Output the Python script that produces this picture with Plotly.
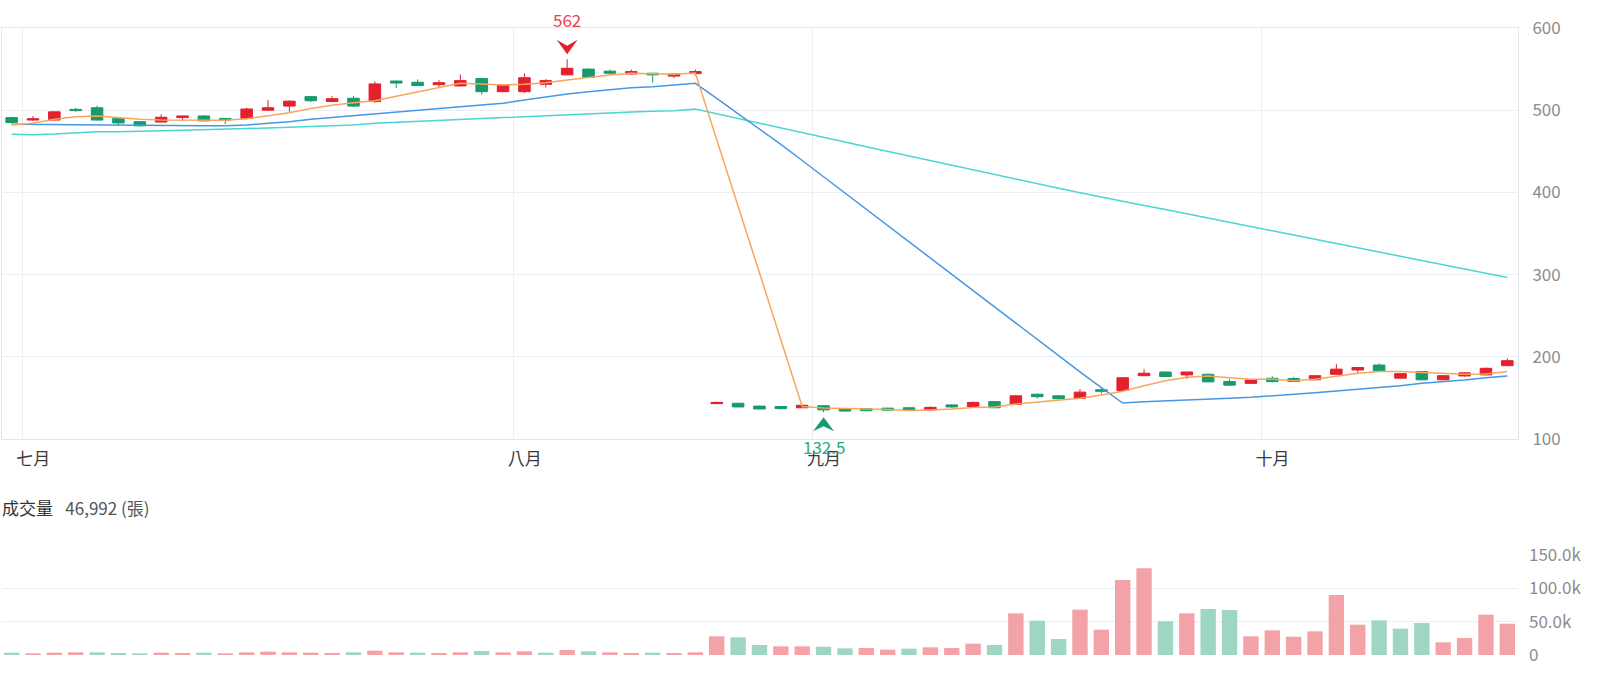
import plotly.graph_objects as go

# ---------------- data ----------------
dates = [
    "2025-06-30",
    "2025-07-01", "2025-07-02", "2025-07-03", "2025-07-04", "2025-07-07", "2025-07-08",
    "2025-07-09", "2025-07-10", "2025-07-11", "2025-07-14", "2025-07-15", "2025-07-16",
    "2025-07-17", "2025-07-18", "2025-07-21", "2025-07-22", "2025-07-23", "2025-07-24",
    "2025-07-25", "2025-07-28", "2025-07-29", "2025-07-30", "2025-07-31",
    "2025-08-01", "2025-08-04", "2025-08-05", "2025-08-06", "2025-08-07", "2025-08-08",
    "2025-08-11", "2025-08-12", "2025-08-13",
    "2025-08-25", "2025-08-26", "2025-08-27", "2025-08-28", "2025-08-29",
    "2025-09-01", "2025-09-02", "2025-09-03", "2025-09-04", "2025-09-05", "2025-09-08",
    "2025-09-09", "2025-09-10", "2025-09-11", "2025-09-12", "2025-09-15", "2025-09-16",
    "2025-09-17", "2025-09-18", "2025-09-19", "2025-09-22", "2025-09-23", "2025-09-24",
    "2025-09-25", "2025-09-26", "2025-09-30",
    "2025-10-01", "2025-10-02", "2025-10-03", "2025-10-07", "2025-10-08", "2025-10-09",
    "2025-10-13", "2025-10-14", "2025-10-15", "2025-10-16", "2025-10-17", "2025-10-20",
]

open_ = [
    491, 488, 488, 501, 503, 490, 486, 485.6, 491, 493, 490, 490, 500, 505, 516.5, 510.5,
    514.5, 510.5, 535.5, 534, 531, 529.5, 538.5, 522.5, 522.5, 531.5, 543, 550, 547.5, 544,
    545, 541.5, 544.5,
    143, 143.5, 140, 139.5, 138, 140.5, 137, 137, 137.5, 138, 135.5, 141.5, 139.5, 145.5,
    142, 154.5, 152.5, 149.5, 160, 159, 177, 181.5, 178, 178.7, 170, 167.7, 173.8, 173.5,
    172, 178.7, 184, 190, 174, 182, 172, 176.7, 178, 189.2,
]
high = [
    492, 493, 498.5, 503, 505.5, 490.5, 486.5, 495, 493.5, 494, 490.5, 503, 512.5, 512, 517.5, 517,
    517.5, 535, 536, 537.5, 536.5, 543.5, 539.5, 531, 545, 538, 562, 551, 549.5, 549.5,
    545.5, 545, 549.5,
    145.5, 144, 140.5, 140, 141.5, 141, 137.5, 137.5, 138, 138.5, 139.5, 142, 145.5, 146,
    153.5, 155, 153, 161, 162, 175, 185, 182, 182, 179.5, 173, 173, 176.5, 175.5,
    177.5, 191, 187.5, 192, 180, 182.5, 177.5, 181.5, 187, 198,
]
low = [
    484, 487, 487.5, 498, 487.5, 481, 480, 485, 487, 486.5, 483, 488.5, 500, 498, 510, 510,
    504, 509, 527, 529.5, 527, 529, 519, 522, 521, 527.5, 542.5, 539.5, 543, 543,
    533.5, 539, 542,
    142.5, 138.5, 136, 136, 137.5, 132.5, 133.5, 134, 134.5, 134.5, 135, 137.5, 139, 137.5,
    141.5, 149, 148, 149, 155, 158, 176.5, 175.5, 173, 169, 165, 167, 169, 169.5,
    171.5, 178, 180.5, 182.5, 173.5, 171.5, 171.5, 175.8, 177.5, 188.5,
]
close = [
    485, 489.5, 498, 499.5, 488, 484.5, 481, 491.4, 493, 487, 488, 501.5, 503, 511, 511.5, 514,
    505, 532, 533, 530, 533.5, 536, 522.5, 530.5, 539.5, 536, 551, 540, 545, 547,
    543, 544, 547,
    144.5, 139, 136.5, 137, 141, 135.5, 134, 134.5, 135, 135, 138.5, 139, 144.5, 138,
    152.5, 151.5, 149, 157, 158, 174.5, 180, 176, 181.5, 169.5, 165.5, 171.7, 169.8, 170,
    177, 185, 187, 183, 179.5, 172, 177, 180.5, 186, 195.3,
]
volume = [
    3500, 2500, 3500, 4000, 4000, 3000, 2500, 3500, 3000, 3500, 2500, 4000, 5000, 4000, 3500, 3000,
    4000, 6500, 4000, 3500, 3000, 4000, 6000, 4000, 5500, 3500, 7500, 5500, 4000, 3000,
    3500, 3000, 4000,
    28000, 26500, 15000, 13000, 13000, 12500, 10000, 10500, 8000, 9500, 11500, 10500, 17000, 15000,
    62500, 51500, 24000, 68000, 38000, 112500, 130000, 50500, 62500, 69000, 67500, 28000, 37000, 27500,
    35500, 90000, 45500, 52000, 39500, 48000, 19000, 25500, 60500, 46992,
]
# 1 = volume up day (red), 0 = down day (green)
vol_up = [
    0, 1, 1, 1, 0, 0, 0, 1, 1, 0, 1, 1, 1, 1, 1, 1, 0, 1, 1, 0, 1, 1, 0, 1, 1, 0, 1, 0, 1, 1, 0, 1, 1,
    1, 0, 0, 1, 1, 0, 0, 1, 1, 0, 1, 1, 1, 0, 1, 0, 0, 1, 1, 1, 1, 0, 1, 0, 0, 1, 1, 1, 1, 1, 1,
    0, 0, 0, 1, 1, 1, 1,
]
ma5 = [
    482, 484, 489, 492, 493, 491, 489, 488, 487.7, 487.7, 487.7, 489.7, 493, 497, 502, 506,
    509, 511.5, 517, 522.5, 527.5, 532.7, 532, 530.7, 531.5, 533.5, 536.7, 540, 542.8, 545,
    544, 543.7, 545.2,
    465.1, 383.5, 302.2, 220.8, 139.6, 137.8, 136.8, 136.4, 136.0, 134.8, 135.4, 136.4, 138.4,
    139.0, 142.5, 145.1, 147.1, 149.6, 153.6, 158.0, 164.8, 170.9, 175, 176.6, 174.6, 172.6,
    172.6, 171, 172.6, 176.6, 180, 182, 182, 181, 180, 178.7, 179, 182,
]
ma20 = [
    482.8, 482.5, 482.3, 482, 481.8, 481.5, 481.3, 481.2, 481, 481, 481, 482, 484, 486, 489, 491.3,
    493.5, 495.4, 497.8, 500.2, 502.3, 504.3, 506.3, 508.4, 512.4, 516.4, 519.7, 522.5, 525.4,
    527.4, 528.6, 530.7, 532.7,
    514.3, 495.7, 476.8, 458.4, 438.8, 419.0, 399.2, 379.2, 359.2, 339.8, 320.2, 300.1, 280.5,
    259.9, 240.5, 220.8, 200.9, 181.7, 162.4, 143.7, 145.4, 146.2, 147.4, 148.7, 149.5, 150.7,
    152.3, 154.4, 156.3, 158.4, 160.5, 162.4, 164.8, 167.8, 169.7, 171.8, 174.6, 176.6,
]
ma60 = [
    470.7, 470.2, 471, 472.6, 473.8, 473.8, 474.7, 475, 475.5, 476, 476.8, 477.5, 478.3, 479.2,
    480, 480.8, 482, 484, 485.2, 486.5, 487.7, 488.9, 490.1, 491.3, 492.1, 493.3, 494.5, 495.4,
    496.6, 497.8, 498.7, 499.4, 501.3,
    495.7, 490.0, 484.3, 478.6, 472.9, 467.2, 461.4, 455.6, 449.9, 444.1, 438.4, 432.7, 427.1,
    421.4, 416.0, 410.5, 405.0, 399.6, 394.2, 389.1, 384.1, 379.1, 374.1, 368.9, 363.7, 358.5,
    353.4, 348.1, 342.9, 337.7, 332.5, 327.4, 322.3, 317.2, 311.9, 306.7, 301.7, 296.5,
]

month_names = {7: "七月", 8: "八月", 9: "九月", 10: "十月"}
price_ticks = [100, 200, 300, 400, 500, 600]
vol_ticks = [0, 50000, 100000, 150000]
vol_tick_text = ["0", "50.0k", "100.0k", "150.0k"]
volume_title = "成交量"
volume_unit = "張"

# ---------------- styles ----------------
RED = "#e3202e"
GREEN = "#169b6b"
RED_VOL = "#f3a2a7"
GREEN_VOL = "#9fd6c2"
GRID = "#eceef5"
BORDER = "#e2e6ee"
FONT = "Noto Sans CJK TC"

idx = list(range(len(dates)))

# month boundaries (category boundary before first trading day of each month)
tick_pos, tick_txt = [], []
for i in range(1, len(dates)):
    m, pm = int(dates[i][5:7]), int(dates[i - 1][5:7])
    if m != pm and m in month_names:
        tick_pos.append(i - 0.5)
        tick_txt.append(month_names[m])

fig = go.Figure()

fig.add_trace(go.Candlestick(
    x=idx, open=open_, high=high, low=low, close=close,
    increasing=dict(line=dict(color=RED, width=1), fillcolor=RED),
    decreasing=dict(line=dict(color=GREEN, width=1), fillcolor=GREEN),
    whiskerwidth=0, hovertext=dates, xaxis="x", yaxis="y", showlegend=False,
))

for ma, col in ((ma60, "#4cd5d3"), (ma20, "#4697e4"), (ma5, "#f6a75c")):
    fig.add_trace(go.Scatter(
        x=idx, y=ma, mode="lines", line=dict(color=col, width=1.5),
        xaxis="x", yaxis="y", hoverinfo="skip", showlegend=False,
    ))

fig.add_trace(go.Bar(
    x=idx, y=volume, width=0.72,
    marker=dict(color=[RED_VOL if u else GREEN_VOL for u in vol_up], line=dict(width=0)),
    xaxis="x2", yaxis="y2", hovertext=dates, showlegend=False,
))

# extremes
hi = max(high)
i_hi = high.index(hi)
lo = min(low)
i_lo = low.index(lo)

fig.add_shape(type="path", xref="x", yref="y", xsizemode="pixel", ysizemode="pixel",
              xanchor=i_hi, yanchor=hi, path="M0,5 L-10.5,19.5 L0,13.5 L10.5,19.5 Z",
              fillcolor=RED, line=dict(width=0), layer="above")
fig.add_shape(type="path", xref="x", yref="y", xsizemode="pixel", ysizemode="pixel",
              xanchor=i_lo, yanchor=lo, path="M0,-5 L-10.5,-19 L0,-14 L10.5,-19 Z",
              fillcolor=GREEN, line=dict(width=0), layer="above")

fig.add_annotation(x=i_hi, y=hi, xref="x", yref="y", text=f"{hi:g}", showarrow=False,
                   yshift=40, yanchor="middle", font=dict(family=FONT, size=17, color="#e8444e"))
fig.add_annotation(x=i_lo, y=lo, xref="x", yref="y", text=f"{lo:g}", showarrow=False,
                   yshift=-34, yanchor="middle", font=dict(family=FONT, size=17, color="#2da87b"))

fig.add_annotation(
    xref="paper", yref="paper", x=0, y=0.2345, xshift=-2, xanchor="left", yanchor="middle",
    showarrow=False,
    text=(f'<span style="color:#333333">{volume_title}</span>\u2002 '
          f'<span style="color:#555555">{volume[-1]:,} ({volume_unit})</span>'),
    font=dict(family=FONT, size=17),
)

fig.update_layout(
    width=1600, height=677,
    margin=dict(l=2, r=82, t=28, b=22),
    paper_bgcolor="white", plot_bgcolor="white",
    showlegend=False, boxgap=0.46, boxgroupgap=0, hovermode="x",
    font=dict(family=FONT, size=17, color="#8c8c8c"),
    xaxis=dict(
        domain=[0, 1], anchor="y", type="linear", range=[-0.45, 70.5],
        tickmode="array", tickvals=tick_pos, ticktext=tick_txt,
        ticklabelshift=11, ticklabelstandoff=5,
        showgrid=True, gridcolor=GRID, gridwidth=1,
        showline=True, mirror=True, linecolor=BORDER, linewidth=1,
        zeroline=False, ticks="", rangeslider=dict(visible=False),
        tickfont=dict(family=FONT, size=17, color="#3a3a3a"),
    ),
    yaxis=dict(
        domain=[0.3445, 1], anchor="x", side="right", range=[100, 600],
        tickmode="array", tickvals=price_ticks,
        showgrid=True, gridcolor=GRID, gridwidth=1,
        showline=True, mirror=True, linecolor=BORDER, linewidth=1,
        zeroline=False, ticks="", ticklabelstandoff=10, automargin=False,
        tickfont=dict(family=FONT, size=17, color="#8c8c8c"),
    ),
    xaxis2=dict(
        domain=[0, 1], anchor="y2", matches="x", type="linear",
        showticklabels=False, showgrid=False, zeroline=False, showline=False, ticks="",
    ),
    yaxis2=dict(
        domain=[0, 0.1595], anchor="x2", side="right", range=[0, 150000],
        tickmode="array", tickvals=vol_ticks, ticktext=vol_tick_text,
        showgrid=True, gridcolor=GRID, gridwidth=1,
        zeroline=False, showline=False, ticks="", ticklabelstandoff=10, automargin=False,
        tickfont=dict(family=FONT, size=17, color="#8c8c8c"),
    ),
)

fig.write_html("out.html")
